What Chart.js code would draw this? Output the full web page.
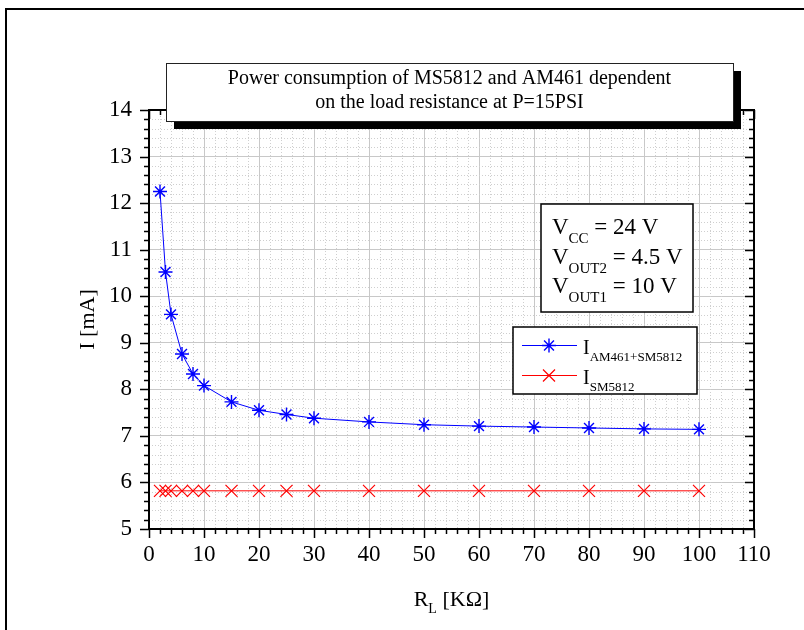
<!DOCTYPE html>
<html>
<head>
<meta charset="utf-8">
<script src="https://cdn.jsdelivr.net/npm/chart.js@4.4.1/dist/chart.umd.min.js"></script>
<style>
  html, body { margin: 0; padding: 0; background: #fff; }
</style>
</head>
<body>
<canvas id="chart" width="804" height="630"></canvas>
<script>
// load resistance in kOhm
const loadRes = [2, 3, 4, 6, 8, 10, 15, 20, 25, 30, 40, 50, 60, 70, 80, 90, 100];
// I (AM461 + SM5812) in mA
const iTotal = [12.25, 10.52, 9.61, 8.76, 8.33, 8.08, 7.73, 7.55, 7.46, 7.38, 7.30, 7.24, 7.21, 7.19, 7.17, 7.15, 7.14];
// I (SM5812) in mA
const iSensor = [5.82, 5.82, 5.82, 5.82, 5.82, 5.82, 5.82, 5.82, 5.82, 5.82, 5.82, 5.82, 5.82, 5.82, 5.82, 5.82, 5.82];

const titleLines = ["Power consumption of MS5812 and AM461 dependent", "on the load resistance at P=15PSI"];
const supplyLines = [["CC", " = 24 V"], ["OUT2", " = 4.5 V"], ["OUT1", " = 10 V"]];
const legendSubs = ["AM461+SM5812", "SM5812"];

const SERIF = "'Liberation Serif', 'DejaVu Serif', serif";

const ctx = document.getElementById("chart");

// text with a subscript part, returns end x
function subText(c, x, y, main, sub, rest, size, subSize, subDrop) {
  c.textAlign = "left";
  c.textBaseline = "alphabetic";
  c.font = size + "px " + SERIF;
  c.fillText(main, x, y);
  x += c.measureText(main).width;
  c.font = subSize + "px " + SERIF;
  c.fillText(sub, x, y + subDrop);
  x += c.measureText(sub).width;
  if (rest) {
    c.font = size + "px " + SERIF;
    c.fillText(rest, x, y);
    x += c.measureText(rest).width;
  }
  return x;
}

const decor = {
  id: "decor",
  beforeDatasetsDraw(chart) {
    const c = chart.ctx;
    const a = chart.chartArea;
    const xs = chart.scales.x, ys = chart.scales.y;
    c.save();
    // minor dotted grid
    c.strokeStyle = "#cfcfcf";
    c.lineWidth = 1;
    c.setLineDash([1, 2]);
    for (let v = 2; v < 110; v += 2) {
      if (v % 10 === 0) continue;
      const px = Math.round(xs.getPixelForValue(v)) + 0.5;
      c.beginPath(); c.moveTo(px, a.top); c.lineTo(px, a.bottom); c.stroke();
    }
    for (let i = 1; i < 45; i++) {
      if (i % 5 === 0) continue;
      const py = Math.round(ys.getPixelForValue(5 + i * 0.2)) + 0.5;
      c.beginPath(); c.moveTo(a.left, py); c.lineTo(a.right, py); c.stroke();
    }
    c.restore();
  },
  afterDraw(chart) {
    const c = chart.ctx;
    const a = chart.chartArea;
    const xs = chart.scales.x, ys = chart.scales.y;
    c.save();
    c.fillStyle = "#000";
    c.strokeStyle = "#000";

    // outer frame (cut by the picture edge)
    c.lineWidth = 2;
    c.beginPath();
    c.moveTo(6, 640); c.lineTo(6, 9); c.lineTo(810, 9);
    c.stroke();

    // axis box
    c.lineWidth = 2;
    c.strokeRect(a.left, a.top, a.right - a.left, a.bottom - a.top);

    // tick marks
    c.lineWidth = 1.5;
    c.beginPath();
    for (let v = 0; v <= 110; v += 2) {
      const px = Math.round(xs.getPixelForValue(v)) + 0.5;
      const len = v % 10 === 0 ? 9 : 5;
      c.moveTo(px, a.bottom); c.lineTo(px, a.bottom + len);
      c.moveTo(px, a.top); c.lineTo(px, a.top + len);
    }
    for (let i = 0; i <= 45; i++) {
      const py = Math.round(ys.getPixelForValue(5 + i * 0.2)) + 0.5;
      const len = i % 5 === 0 ? 9 : 5;
      c.moveTo(a.left, py); c.lineTo(a.left - len, py);
      c.moveTo(a.right, py); c.lineTo(a.right - len, py);
    }
    c.stroke();

    // axis titles
    c.font = "22px " + SERIF;
    c.textAlign = "center";
    c.textBaseline = "middle";
    c.save();
    c.translate(88, (a.top + a.bottom) / 2);
    c.rotate(-Math.PI / 2);
    c.fillText("I [mA]", 0, 0);
    c.restore();

    c.font = "22px " + SERIF;
    const wR = c.measureText("R").width, wRest = c.measureText(" [KΩ]").width;
    c.font = "14px " + SERIF;
    const wL = c.measureText("L").width;
    const cx = (a.left + a.right) / 2;
    subText(c, cx - (wR + wL + wRest) / 2, 606, "R", "L", " [KΩ]", 22, 14, 7);

    // title box with shadow
    c.fillRect(174, 71, 567, 58);
    c.fillStyle = "#fff";
    c.fillRect(166, 63, 567, 58);
    c.strokeStyle = "#222";
    c.lineWidth = 1;
    c.strokeRect(166.5, 63.5, 567, 58);
    c.fillStyle = "#000";
    c.font = "20px " + SERIF;
    c.textAlign = "center";
    c.textBaseline = "alphabetic";
    c.fillText(titleLines[0], 449.5, 84);
    c.fillText(titleLines[1], 449.5, 108);

    // supply voltage box
    c.fillStyle = "#fff";
    c.fillRect(541, 204, 152, 108);
    c.strokeStyle = "#000";
    c.lineWidth = 1.5;
    c.strokeRect(541, 204, 152, 108);
    c.fillStyle = "#000";
    supplyLines.forEach((s, k) => {
      subText(c, 552, 234 + k * 29.5, "V", s[0], s[1], 23, 15, 9);
    });

    // legend
    c.fillStyle = "#fff";
    c.fillRect(513, 327, 184, 67);
    c.strokeStyle = "#000";
    c.lineWidth = 1.5;
    c.strokeRect(513, 327, 184, 67);
    const ds = chart.data.datasets;
    [345, 375].forEach((ly, k) => {
      c.strokeStyle = ds[k].borderColor;
      c.lineWidth = 1;
      c.beginPath(); c.moveTo(522, ly + 0.5); c.lineTo(577, ly + 0.5); c.stroke();
      c.lineWidth = ds[k].pointBorderWidth;
      Chart.helpers.drawPoint(c, {
        pointStyle: ds[k].pointStyle, radius: ds[k].pointRadius, rotation: 0, borderWidth: ds[k].pointBorderWidth
      }, 549, ly + 0.5);
      c.fillStyle = "#000";
      subText(c, 583, ly + 9, "I", legendSubs[k], "", 20, 13, 7);
    });
    c.restore();
  }
};

new Chart(ctx, {
  type: "line",
  data: {
    datasets: [
      {
        label: "I AM461+SM5812",
        data: loadRes.map((r, i) => ({ x: r, y: iTotal[i] })),
        borderColor: "#0000ff",
        backgroundColor: "#0000ff",
        borderWidth: 1,
        pointStyle: "star",
        pointRadius: 7,
        pointBorderWidth: 1.4,
        tension: 0,
      },
      {
        label: "I SM5812",
        data: loadRes.map((r, i) => ({ x: r, y: iSensor[i] })),
        borderColor: "#ff0000",
        backgroundColor: "#ff0000",
        borderWidth: 1,
        pointStyle: "crossRot",
        pointRadius: 8.5,
        pointBorderWidth: 1.2,
        tension: 0,
      },
    ],
  },
  options: {
    responsive: false,
    animation: false,
    events: [],
    layout: { padding: { left: 0, top: 110, right: 50, bottom: 0 } },
    plugins: {
      legend: { display: false },
      title: { display: false },
      tooltip: { enabled: false },
    },
    scales: {
      x: {
        type: "linear",
        min: 0,
        max: 110,
        afterFit: (s) => { s.height = 101; },
        ticks: {
          stepSize: 10,
          color: "#000",
          padding: 12,
          maxRotation: 0,
          font: { family: SERIF, size: 23 },
        },
        grid: { color: "#c8c8c8", lineWidth: 1, drawTicks: false },
        border: { display: false },
      },
      y: {
        min: 5,
        max: 14,
        afterFit: (s) => { s.width = 149; },
        ticks: {
          stepSize: 1,
          color: "#000",
          padding: 17,
          font: { family: SERIF, size: 23 },
        },
        grid: { color: "#c8c8c8", lineWidth: 1, drawTicks: false },
        border: { display: false },
      },
    },
  },
  plugins: [decor],
});
</script>
</body>
</html>
